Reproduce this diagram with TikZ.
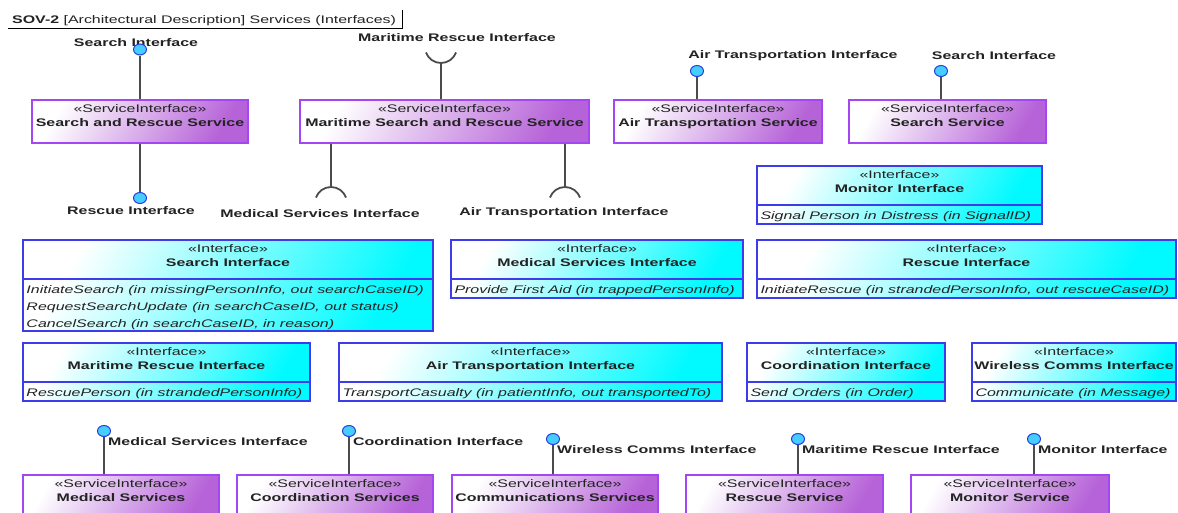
\documentclass[tikz,border=0pt]{standalone}
\usepackage{fontspec}
\setmainfont[FakeStretch=1.45]{Liberation Sans}
\usetikzlibrary{positioning,shapes.geometric}

\definecolor{svcpurple}{RGB}{182,98,216}
\definecolor{svcedge}{RGB}{165,70,245}
\definecolor{ifcyan}{RGB}{0,250,255}
\definecolor{ifedge}{RGB}{60,60,235}
\definecolor{ballfill}{RGB}{70,205,255}
\definecolor{balledge}{RGB}{40,60,220}
\definecolor{wiregray}{RGB}{75,75,75}
\definecolor{inkgray}{RGB}{35,35,35}

\begin{document}
\begin{tikzpicture}[x=1pt,y=-1pt,
    every node/.style={font=\fontsize{11}{14}\selectfont,text=inkgray,inner sep=0pt},
    svcbox/.style={draw=svcedge,line width=1.4pt,top color=white,bottom color=svcpurple,shading angle=60,minimum height=43},
    ifbox/.style={draw=ifedge,line width=1.4pt,top color=white,bottom color=ifcyan,shading angle=60},
    head/.style={align=center},
    ops/.style={align=left,font=\fontsize{11}{17}\selectfont\itshape},
    sep/.style={draw=ifedge,line width=1.8pt},
    wire/.style={draw=wiregray,line width=1.8pt},
    ball/.style={ellipse,draw=balledge,fill=ballfill,line width=1pt,minimum width=13,minimum height=11},
    lbl/.style={font=\fontsize{11}{14}\selectfont\bfseries}
]

\fill[white] (0,0) rectangle (1178,512);
\useasboundingbox (0,0) rectangle (1178,512);
\clip (0,0) rectangle (1178,512);

% frame title
\node[anchor=west] (title) at (12,20.5) {\textbf{SOV-2} [Architectural Description] Services (Interfaces)};
\draw[line width=0.8pt] (8,28) -- (402,28) -- (402,10);

% service interfaces, top row
\node[svcbox,minimum width=216] (sar) at (140,121.5) {};
\node[head,below=5pt of sar.north] (sarT) {«ServiceInterface»\\\textbf{Search and Rescue Service}};

\node[svcbox,minimum width=289] (msar) at (444.5,121.5) {};
\node[head,below=5pt of msar.north] (msarT) {«ServiceInterface»\\\textbf{Maritime Search and Rescue Service}};

\node[svcbox,minimum width=208] (airS) at (718,121.5) {};
\node[head,below=5pt of airS.north] (airST) {«ServiceInterface»\\\textbf{Air Transportation Service}};

\node[svcbox,minimum width=197] (searchS) at (947.5,121.5) {};
\node[head,below=5pt of searchS.north] (searchST) {«ServiceInterface»\\\textbf{Search Service}};

% provided and required interfaces of the top row
\node[lbl] (sarL1) at (136,42.5) {Search Interface};
\node[ball] (sarP1) at (140,49.5) {};
\draw[wire] (sar) -- (sarP1);
\node[lbl] (sarL2) at (131,211) {Rescue Interface};
\node[ball] (sarP2) at (140,198) {};
\draw[wire] (sar) -- (sarP2);

\node[lbl] (msarL1) at (457,37.5) {Maritime Rescue Interface};
\coordinate (msarP1) at (441,63);
\draw[wire] (msar.north -| msarP1) -- (msarP1);
\draw[wire] (msarP1) arc[start angle=270,end angle=200,radius=16pt]
            (msarP1) arc[start angle=270,end angle=340,radius=16pt];

\node[lbl] (msarL2) at (320,214) {Medical Services Interface};
\coordinate (msarP2) at (331,187);
\draw[wire] (msar.south -| msarP2) -- (msarP2);
\draw[wire] (msarP2) arc[start angle=90,end angle=160,radius=16pt]
            (msarP2) arc[start angle=90,end angle=20,radius=16pt];

\node[lbl] (msarL3) at (564,213) {Air Transportation Interface};
\coordinate (msarP3) at (565,187);
\draw[wire] (msar.south -| msarP3) -- (msarP3);
\draw[wire] (msarP3) arc[start angle=90,end angle=160,radius=16pt]
            (msarP3) arc[start angle=90,end angle=20,radius=16pt];

\node[lbl] (airSL) at (793,55.5) {Air Transportation Interface};
\node[ball] (airSP) at (697,71) {};
\draw[wire] (airSP) -- (airS.north -| airSP);

\node[lbl] (searchSL) at (994,55.5) {Search Interface};
\node[ball] (searchSP) at (941,71) {};
\draw[wire] (searchSP) -- (searchS.north -| searchSP);

% interfaces
\node[ifbox,minimum width=285,minimum height=58] (monitorI) at (899.5,195) {};
\node[head,below=5pt of monitorI.north] (monitorIT) {«Interface»\\\textbf{Monitor Interface}};
\coordinate (monitorIs) at ([yshift=-40pt]monitorI.north west);
\draw[sep] (monitorIs) -- (monitorIs -| monitorI.east);
\node[ops,below right=6.5pt and 4pt of monitorIs] (monitorIO) {Signal Person in Distress (in SignalID)};

\node[ifbox,minimum width=410,minimum height=91] (searchI) at (228,285.5) {};
\node[head,below=5pt of searchI.north] (searchIT) {«Interface»\\\textbf{Search Interface}};
\coordinate (searchIs) at ([yshift=-40pt]searchI.north west);
\draw[sep] (searchIs) -- (searchIs -| searchI.east);
\node[ops,below right=6.5pt and 4pt of searchIs] (searchIO) {InitiateSearch (in missingPersonInfo, out searchCaseID)\\RequestSearchUpdate (in searchCaseID, out status)\\CancelSearch (in searchCaseID, in reason)};

\node[ifbox,minimum width=292,minimum height=58] (medI) at (597,269) {};
\node[head,below=5pt of medI.north] (medIT) {«Interface»\\\textbf{Medical Services Interface}};
\coordinate (medIs) at ([yshift=-40pt]medI.north west);
\draw[sep] (medIs) -- (medIs -| medI.east);
\node[ops,below right=6.5pt and 4pt of medIs] (medIO) {Provide First Aid (in trappedPersonInfo)};

\node[ifbox,minimum width=419,minimum height=58] (rescI) at (966.5,269) {};
\node[head,below=5pt of rescI.north] (rescIT) {«Interface»\\\textbf{Rescue Interface}};
\coordinate (rescIs) at ([yshift=-40pt]rescI.north west);
\draw[sep] (rescIs) -- (rescIs -| rescI.east);
\node[ops,below right=6.5pt and 4pt of rescIs] (rescIO) {InitiateRescue (in strandedPersonInfo, out rescueCaseID)};

\node[ifbox,minimum width=287,minimum height=58] (maritimeI) at (166.5,372) {};
\node[head,below=5pt of maritimeI.north] (maritimeIT) {«Interface»\\\textbf{Maritime Rescue Interface}};
\coordinate (maritimeIs) at ([yshift=-40pt]maritimeI.north west);
\draw[sep] (maritimeIs) -- (maritimeIs -| maritimeI.east);
\node[ops,below right=6.5pt and 4pt of maritimeIs] (maritimeIO) {RescuePerson (in strandedPersonInfo)};

\node[ifbox,minimum width=383,minimum height=58] (airI) at (530.5,372) {};
\node[head,below=5pt of airI.north] (airIT) {«Interface»\\\textbf{Air Transportation Interface}};
\coordinate (airIs) at ([yshift=-40pt]airI.north west);
\draw[sep] (airIs) -- (airIs -| airI.east);
\node[ops,below right=6.5pt and 4pt of airIs] (airIO) {TransportCasualty (in patientInfo, out transportedTo)};

\node[ifbox,minimum width=198,minimum height=58] (coordI) at (846,372) {};
\node[head,below=5pt of coordI.north] (coordIT) {«Interface»\\\textbf{Coordination Interface}};
\coordinate (coordIs) at ([yshift=-40pt]coordI.north west);
\draw[sep] (coordIs) -- (coordIs -| coordI.east);
\node[ops,below right=6.5pt and 4pt of coordIs] (coordIO) {Send Orders (in Order)};

\node[ifbox,minimum width=204,minimum height=58] (wirelessI) at (1074,372) {};
\node[head,below=5pt of wirelessI.north] (wirelessIT) {«Interface»\\\textbf{Wireless Comms Interface}};
\coordinate (wirelessIs) at ([yshift=-40pt]wirelessI.north west);
\draw[sep] (wirelessIs) -- (wirelessIs -| wirelessI.east);
\node[ops,below right=6.5pt and 4pt of wirelessIs] (wirelessIO) {Communicate (in Message)};

% service interfaces, bottom row
\node[svcbox,minimum width=196] (medS) at (121,496.5) {};
\node[head,below=5pt of medS.north] (medST) {«ServiceInterface»\\\textbf{Medical Services}};
\node[ball] (medSP) at (104,431) {};
\draw[wire] (medSP) -- (medS.north -| medSP);
\node[lbl,anchor=west] (medSL) at (108,441.5) {Medical Services Interface};

\node[svcbox,minimum width=196] (coordS) at (335,496.5) {};
\node[head,below=5pt of coordS.north] (coordST) {«ServiceInterface»\\\textbf{Coordination Services}};
\node[ball] (coordSP) at (349,431) {};
\draw[wire] (coordSP) -- (coordS.north -| coordSP);
\node[lbl,anchor=west] (coordSL) at (353,441.5) {Coordination Interface};

\node[svcbox,minimum width=206] (commS) at (555,496.5) {};
\node[head,below=5pt of commS.north] (commST) {«ServiceInterface»\\\textbf{Communications Services}};
\node[ball] (commSP) at (553,439) {};
\draw[wire] (commSP) -- (commS.north -| commSP);
\node[lbl,anchor=west] (commSL) at (557,449.5) {Wireless Comms Interface};

\node[svcbox,minimum width=197] (rescS) at (784.5,496.5) {};
\node[head,below=5pt of rescS.north] (rescST) {«ServiceInterface»\\\textbf{Rescue Service}};
\node[ball] (rescSP) at (798,439) {};
\draw[wire] (rescSP) -- (rescS.north -| rescSP);
\node[lbl,anchor=west] (rescSL) at (802,449.5) {Maritime Rescue Interface};

\node[svcbox,minimum width=198] (monS) at (1010,496.5) {};
\node[head,below=5pt of monS.north] (monST) {«ServiceInterface»\\\textbf{Monitor Service}};
\node[ball] (monSP) at (1034,439) {};
\draw[wire] (monSP) -- (monS.north -| monSP);
\node[lbl,anchor=west] (monSL) at (1038,449.5) {Monitor Interface};

\end{tikzpicture}
\end{document}
